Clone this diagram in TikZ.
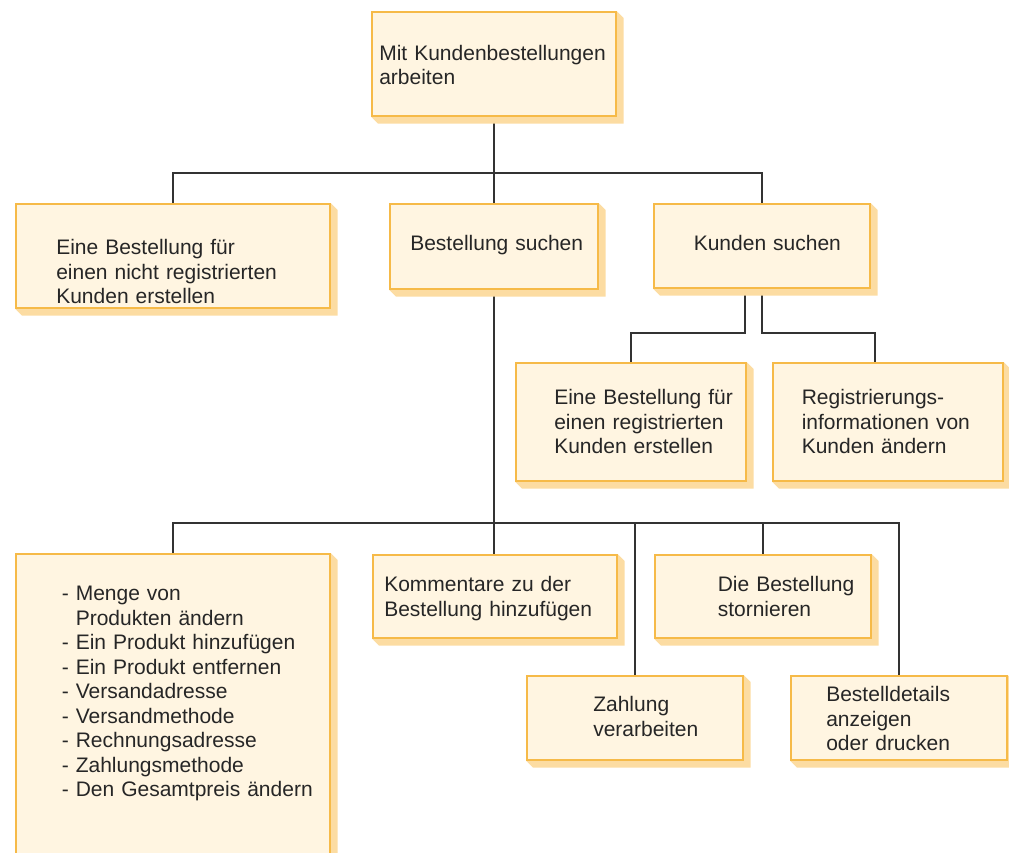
\documentclass[tikz,border=0pt]{standalone}
\usepackage{fontspec}
\setmainfont{Liberation Sans}

\definecolor{taskfill}{HTML}{FFF5E1}
\definecolor{taskline}{HTML}{F6BA48}
\definecolor{taskshadow}{HTML}{FCDCA2}
\definecolor{linkgray}{HTML}{333333}

\pgfdeclarelayer{back}
\pgfsetlayers{back,main}

\begin{document}
\begin{tikzpicture}[
  x=1pt, y=-1pt,
  task/.style={rectangle,draw=taskline,fill=taskfill,line width=1.6pt,anchor=north west,
    inner sep=0pt,align=left,text=black!85,font=\fontsize{21pt}{24.5pt}\selectfont},
  pad/.style={execute at begin node={\leftskip=#1pt}},
  link/.style={draw=linkgray,line width=1.5pt},
  boxshadow/.style={fill=taskshadow}
]
  \useasboundingbox (0,0) rectangle (1009,852);

  % rails of the tree
  \coordinate (bus1) at (0,173);
  \coordinate (bus3) at (0,333);
  \coordinate (bus2) at (0,523);

  \node[task,text width=244pt,pad=7.5,text height=48.5pt,text depth=55.5pt] (A) at (371,11)
    {Mit Kundenbestellungen\\arbeiten};

  \node[task,text width=314pt,pad=40.5,text height=51pt,text depth=53pt] (B1) at (15,203)
    {Eine Bestellung für\\einen nicht registrierten\\Kunden erstellen};
  \node[task,text width=208pt,pad=20.5,text height=47pt,text depth=38pt] (B2) at (389,203)
    {Bestellung suchen};
  \node[task,text width=216pt,pad=40,text height=47pt,text depth=37pt] (B3) at (653,203)
    {Kunden suchen};

  \node[task,text width=230pt,pad=38.5,text height=42pt,text depth=76pt] (C1) at (515,362)
    {Eine Bestellung für\\einen registrierten\\Kunden erstellen};
  \node[task,text width=230pt,pad=29,text height=42pt,text depth=76pt] (C2) at (772,362)
    {Registrierungs-\\informationen von\\Kunden ändern};

  \node[task,text width=314pt,pad=46,text height=47pt,text depth=270pt] (D1) at (15,553)
    {- Menge von\\\hphantom{- }Produkten ändern\\- Ein Produkt hinzufügen\\- Ein Produkt entfernen\\
     - Versandadresse\\- Versandmethode\\- Rechnungsadresse\\- Zahlungsmethode\\- Den Gesamtpreis ändern};
  \node[task,text width=244pt,pad=11.5,text height=37pt,text depth=46pt] (D2) at (372,554)
    {Kommentare zu der\\Bestellung hinzufügen};
  \node[task,text width=216pt,pad=63,text height=37pt,text depth=46pt] (D3) at (654,554)
    {Die Bestellung\\stornieren};
  \node[task,text width=216pt,pad=66.5,text height=36pt,text depth=48pt] (D4) at (526,675)
    {Zahlung\\verarbeiten};
  \node[task,text width=216pt,pad=35.5,text height=26pt,text depth=58pt] (D5) at (790,675)
    {Bestelldetails\\anzeigen\\oder drucken};

  \begin{pgfonlayer}{back}
    % connectors
    \draw[link] (A.south) -- (A.south |- bus1);
    \draw[link] (B1.north) |- (B3.north |- bus1) -- (B3.north);
    \draw[link] (B2.north) -- (B2.north |- bus1);
    \draw[link] (B2.south) -- (B2.south |- D2.north);
    \draw[link] ([xshift=-17pt]B3.south) |- (C1.north |- bus3) -- (C1.north);
    \draw[link] (B3.south) |- ([xshift=-13pt]C2.north |- bus3) -- ([xshift=-13pt]C2.north);
    \draw[link] (D1.north) |- (D5.north |- bus2) -- (D5.north);
    \draw[link] (D4.north) -- (D4.north |- bus2);
    \draw[link] (D3.north) -- (D3.north |- bus2);
    % drop shadows
    \foreach \n in {A,B1,B2,B3,C1,C2,D1,D2,D3,D4,D5}
      \fill[boxshadow] (\n.south west) -- ++(7,7) -- ([shift={(7,7)}]\n.south east)
        -- ([shift={(7,7)}]\n.north east) -- (\n.north east) -- (\n.south east) -- cycle;
  \end{pgfonlayer}
\end{tikzpicture}
\end{document}
